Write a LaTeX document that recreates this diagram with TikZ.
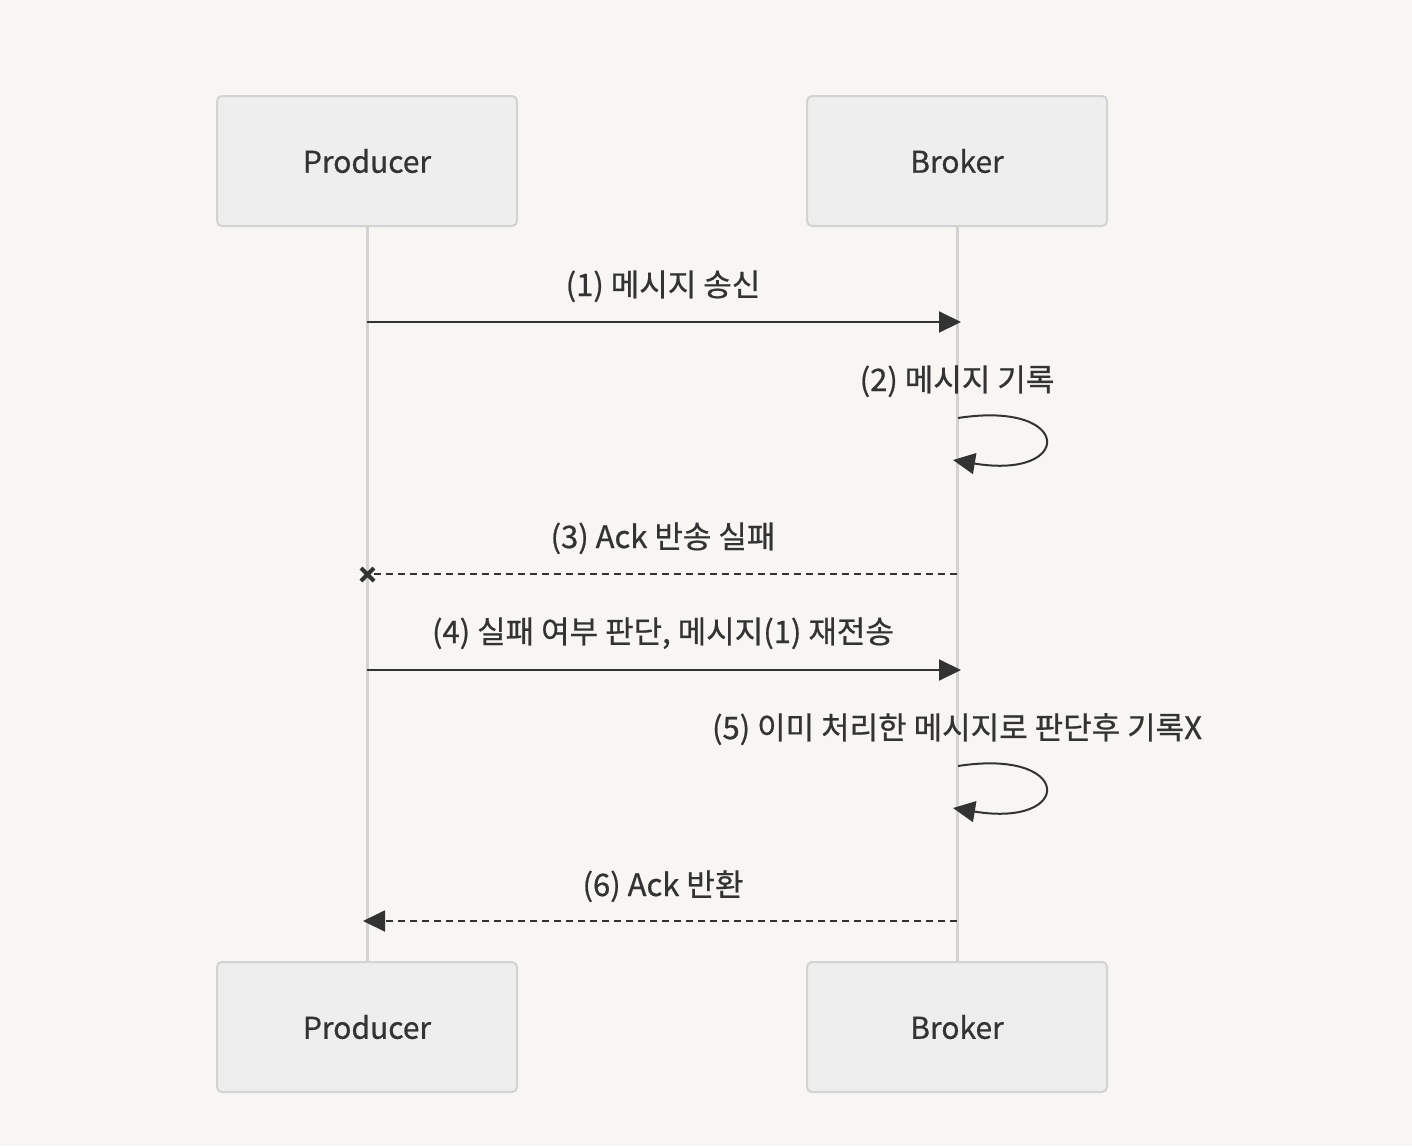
\documentclass[tikz,border=0pt]{standalone}
\usepackage{fontspec}
\setmainfont{Noto Sans CJK KR}[RawFeature={embolden=0.7}]
\usetikzlibrary{arrows.meta}
\definecolor{bg}{HTML}{F7F6F3}
\definecolor{boxfill}{HTML}{EEEEEE}
\definecolor{boxline}{HTML}{D3D3D3}
\definecolor{ink}{HTML}{333333}
\tikzset{
  actor/.style={draw=boxline, line width=2pt, fill=boxfill, rounded corners=5pt,
    minimum width=300pt, minimum height=130pt, inner sep=0pt, text=ink,
    font=\fontsize{30}{35}\selectfont},
  life/.style={draw=boxline, line width=3pt},
  msg/.style={draw=ink, line width=2pt, -{Triangle[length=22pt,width=21pt]}},
  reply/.style={draw=ink, line width=2pt, dash pattern=on 7pt off 5pt},
  lbl/.style={text=ink, font=\fontsize{31}{36}\selectfont, inner sep=0pt, anchor=base}
}
\begin{document}
\begin{tikzpicture}[x=1pt,y=-1pt]
\fill[bg] (0,0) rectangle (1412,1146);
\useasboundingbox (0,0) rectangle (1412,1146);
% lifelines
\coordinate (pt) at (367,226);
\coordinate (pb) at (367,962);
\coordinate (bt) at (957,226);
\coordinate (bb) at (957,962);
\draw[life] (pt) -- (pb);
\draw[life] (bt) -- (bb);
% actors
\node[actor] (p1) at (367,161) {Producer};
\node[actor] (b1) at (957,161) {Broker};
\node[actor] (p2) at (367,1027) {Producer};
\node[actor] (b2) at (957,1027) {Broker};
% message 1
\coordinate (m1s) at (367,322);
\coordinate (m1e) at (961,322);
\draw[msg] (m1s) -- (m1e);
\node[lbl] (l1) at (663,296) {(1) 메시지 송신};
% message 2 self loop
\coordinate (m2s) at (958,418);
\coordinate (m2e) at (953,460);
\draw[msg] (m2s) .. controls (1074,400) and (1074,480) .. (m2e);
\node[lbl] (l2) at (957,391) {(2) 메시지 기록};
% message 3 lost
\coordinate (m3s) at (957,574);
\coordinate (m3e) at (367,574);
\draw[reply] (m3s) -- (m3e);
\draw[ink, line width=4pt] (361,568) -- (374,581) (361,581) -- (374,568);
\node[lbl] (l3) at (663,548) {(3) Ack 반송 실패};
% message 4
\coordinate (m4s) at (367,670);
\coordinate (m4e) at (961,670);
\draw[msg] (m4s) -- (m4e);
\node[lbl] (l4) at (663,643) {(4) 실패 여부 판단, 메시지(1) 재전송};
% message 5 self loop
\coordinate (m5s) at (958,766);
\coordinate (m5e) at (953,808);
\draw[msg] (m5s) .. controls (1074,748) and (1074,828) .. (m5e);
\node[lbl] (l5) at (957,739) {(5) 이미 처리한 메시지로 판단후 기록X};
% message 6
\coordinate (m6s) at (957,921);
\coordinate (m6e) at (363,921);
\draw[reply] (m6s) -- (382,921);
\draw[msg] (382,921) -- (m6e);
\node[lbl] (l6) at (663,896) {(6) Ack 반환};
\end{tikzpicture}
\end{document}
